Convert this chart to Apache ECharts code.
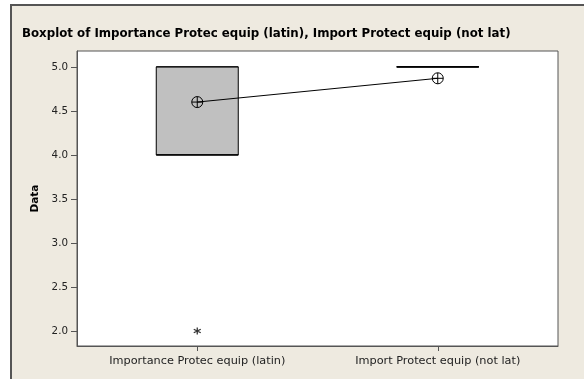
<!DOCTYPE html>
<html>
<head>
<meta charset="utf-8">
<script src="https://cdn.jsdelivr.net/npm/echarts@6/dist/echarts.min.js"></script>
<style>
  html, body { margin: 0; padding: 0; background: #ffffff; }
  #chart { width: 584px; height: 379px; }
</style>
</head>
<body>
<div id="chart"></div>
<script>
// Variables shown on the x axis
const categories = ['Importance Protec equip (latin)', 'Import Protect equip (not lat)'];
// Five-number summaries: [min whisker, Q1, median, Q3, max whisker]
const boxStats = [
  [4, 4, 4, 5, 5],
  [5, 5, 5, 5, 5]
];
// Group means, joined by a line
const means = [4.6, 4.87];
// Outliers: [category index, value]
const outliers = [[0, 2.0]];
// Y tick values
const yTicks = [2.0, 2.5, 3.0, 3.5, 4.0, 4.5, 5.0];

const FONT = '"DejaVu Sans", sans-serif';
const meanSymbol = 'path://M0,5A5,5 0 1,1 10,5A5,5 0 1,1 0,5ZM0,5L10,5M5,0L5,10';
const starSymbol = 'path://M5,0L5,10M0.7,2.5L9.3,7.5M0.7,7.5L9.3,2.5';

const chart = echarts.init(document.getElementById('chart'), null, { renderer: 'canvas' });

chart.setOption({
  backgroundColor: '#ffffff',
  animation: false,
  graphic: [
    {
      type: 'rect', z: -10, silent: true,
      shape: { x: 11, y: 5, width: 600, height: 400 },
      style: { fill: '#EEEAE0', stroke: '#555555', lineWidth: 2 }
    }
  ],
  title: {
    text: 'Boxplot of Importance Protec equip (latin), Import Protect equip (not lat)',
    left: 17, top: 23,
    textStyle: { fontFamily: FONT, fontWeight: 'bold', fontSize: 11.8, color: '#000' }
  },
  grid: { left: 77, top: 51, right: 26, bottom: 33, show: true, backgroundColor: '#ffffff', borderColor: '#555', borderWidth: 1 },
  xAxis: {
    type: 'category',
    data: categories,
    boundaryGap: true,
    axisLine: { show: true, lineStyle: { color: '#555' } },
    axisTick: { show: true, alignWithLabel: true, length: 5, lineStyle: { color: '#555' } },
    axisLabel: { fontFamily: FONT, fontSize: 11.3, color: '#222', margin: 10 },
    splitLine: { show: false }
  },
  yAxis: {
    type: 'value',
    min: 1.83, max: 5.18,
    name: 'Data',
    nameLocation: 'middle',
    nameGap: 35,
    nameTextStyle: { fontFamily: FONT, fontWeight: 'bold', fontSize: 10.5, color: '#000' },
    axisLine: { show: true, lineStyle: { color: '#555' } },
    axisTick: { show: true, length: 6, customValues: yTicks, lineStyle: { color: '#555' } },
    axisLabel: {
      customValues: yTicks, fontFamily: FONT, fontSize: 10.3, color: '#222', margin: 9,
      formatter: v => v.toFixed(1)
    },
    splitLine: { show: false }
  },
  series: [
    {
      type: 'boxplot',
      data: boxStats,
      boxWidth: [82, 82],
      itemStyle: { color: '#C0C0C0', borderColor: '#000', borderWidth: 1 }
    },
    {
      type: 'line',
      data: means,
      symbol: meanSymbol,
      symbolSize: 11,
      showSymbol: true,
      lineStyle: { color: '#000', width: 1 },
      itemStyle: { color: 'rgba(0,0,0,0)', borderColor: '#000', borderWidth: 1 },
      z: 5
    },
    {
      type: 'scatter',
      data: outliers,
      symbol: starSymbol,
      symbolSize: 7,
      itemStyle: { color: 'rgba(0,0,0,0)', borderColor: '#000', borderWidth: 1.3 },
      z: 5
    }
  ]
});
</script>
</body>
</html>
